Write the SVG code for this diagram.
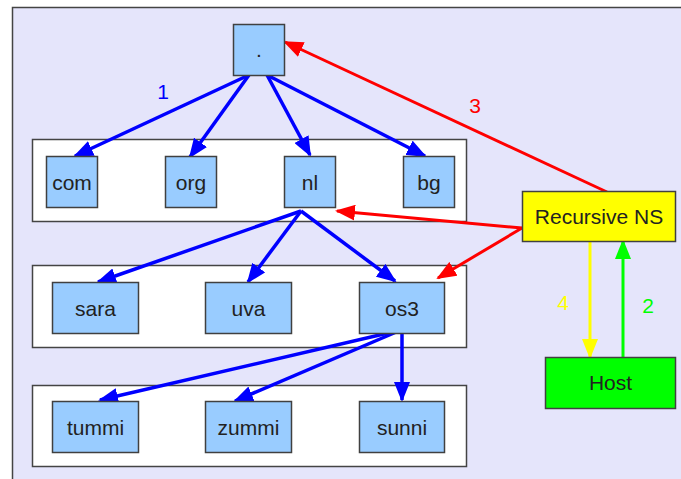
<svg xmlns="http://www.w3.org/2000/svg" width="681" height="479" viewBox="0 0 681 479">
  <style>
    .zone { fill: #ffffff; stroke: #444444; stroke-width: 1.5; }
    .dom { fill: #99ccff; stroke: #404040; stroke-width: 1.5; }
    .ns { fill: #ffff00; stroke: #404040; stroke-width: 1.5; }
    .host { fill: #00ff00; stroke: #404040; stroke-width: 1.5; }
    .lbl { font-family: "Liberation Sans", Arial, sans-serif; font-size: 21px; fill: #222222; text-anchor: middle; }
    .num { font-family: "Liberation Sans", Arial, sans-serif; font-size: 21px; text-anchor: middle; }
    .blue { stroke: #0000ff; stroke-width: 3.5; fill: none; marker-end: url(#ahBlue); }
    .red { stroke: #ff0000; stroke-width: 3; fill: none; marker-end: url(#ahRed); }
    .yellow { stroke: #ffff00; stroke-width: 3; fill: none; marker-end: url(#ahYellow); }
    .green { stroke: #00ff00; stroke-width: 3; fill: none; marker-end: url(#ahGreen); }
  </style>
  <defs>
    <marker id="ahBlue" markerUnits="userSpaceOnUse" viewBox="0 0 20 16" markerWidth="20" markerHeight="16" refX="18" refY="8" orient="auto">
      <path d="M0,0 L20,8 L0,16 z" fill="#0000ff"/>
    </marker>
    <marker id="ahRed" markerUnits="userSpaceOnUse" viewBox="0 0 20 16" markerWidth="20" markerHeight="16" refX="18" refY="8" orient="auto">
      <path d="M0,0 L20,8 L0,16 z" fill="#ff0000"/>
    </marker>
    <marker id="ahYellow" markerUnits="userSpaceOnUse" viewBox="0 0 20 16" markerWidth="20" markerHeight="16" refX="18" refY="8" orient="auto">
      <path d="M0,0 L20,8 L0,16 z" fill="#ffff00"/>
    </marker>
    <marker id="ahGreen" markerUnits="userSpaceOnUse" viewBox="0 0 20 16" markerWidth="20" markerHeight="16" refX="18" refY="8" orient="auto">
      <path d="M0,0 L20,8 L0,16 z" fill="#00ff00"/>
    </marker>
  </defs>

  <!-- canvas -->
  <rect x="0" y="0" width="681" height="479" fill="#ffffff"/>
  <rect x="12.5" y="7.5" width="680" height="480" fill="#e5e5fb" stroke="#444444" stroke-width="1.5"/>

  <!-- zone frames -->
  <g id="zones">
    <rect class="zone" x="32.5" y="139.5" width="434" height="82"/>
    <rect class="zone" x="32.5" y="265.5" width="434" height="82"/>
    <rect class="zone" x="32.5" y="385.5" width="434" height="81"/>
  </g>

  <!-- connectors -->
  <g id="connectors">
    <line class="blue" x1="249" y1="75" x2="75" y2="156"/>
    <line class="blue" x1="249" y1="75" x2="190" y2="157"/>
    <line class="blue" x1="267" y1="75" x2="310" y2="155"/>
    <line class="blue" x1="267" y1="75" x2="425" y2="156"/>
    <line class="blue" x1="301" y1="211" x2="98" y2="282"/>
    <line class="blue" x1="301" y1="211" x2="248" y2="282"/>
    <line class="blue" x1="301" y1="211" x2="395" y2="281"/>
    <line class="blue" x1="401" y1="330" x2="100" y2="400"/>
    <line class="blue" x1="401" y1="330" x2="235" y2="401"/>
    <line class="blue" x1="402" y1="330" x2="402" y2="400"/>
    <line class="red" x1="607" y1="192" x2="285" y2="42"/>
    <line class="red" x1="522" y1="228" x2="337" y2="211"/>
    <line class="red" x1="522" y1="228" x2="438" y2="278"/>
    <line class="yellow" x1="590" y1="241" x2="590" y2="357"/>
    <line class="green" x1="623" y1="357" x2="623" y2="241"/>
    <text class="num" x="163" y="99" fill="#0000ff">1</text>
    <text class="num" x="475" y="113" fill="#ff0000">3</text>
    <text class="num" x="563" y="310" fill="#ffff00">4</text>
    <text class="num" x="648" y="313" fill="#00ff00">2</text>
  </g>

  <!-- nodes -->
  <g id="root"><rect class="dom" x="233.5" y="24.5" width="51" height="51"/><text class="lbl" x="259" y="57">.</text></g>
  <g id="com"><rect class="dom" x="46.5" y="156.5" width="51" height="51"/><text class="lbl" x="72" y="189.5">com</text></g>
  <g id="org"><rect class="dom" x="165.5" y="156.5" width="51" height="51"/><text class="lbl" x="191" y="189.5">org</text></g>
  <g id="nl"><rect class="dom" x="284.5" y="156.5" width="51" height="51"/><text class="lbl" x="310" y="189.5">nl</text></g>
  <g id="bg"><rect class="dom" x="403.5" y="156.5" width="51" height="51"/><text class="lbl" x="429" y="189.5">bg</text></g>
  <g id="sara"><rect class="dom" x="52.5" y="282.5" width="86" height="51"/><text class="lbl" x="95.5" y="315.5">sara</text></g>
  <g id="uva"><rect class="dom" x="205.5" y="282.5" width="86" height="51"/><text class="lbl" x="248.5" y="315.5">uva</text></g>
  <g id="os3"><rect class="dom" x="359.5" y="282.5" width="85" height="51"/><text class="lbl" x="402" y="315.5">os3</text></g>
  <g id="tummi"><rect class="dom" x="52.5" y="401.5" width="86" height="51"/><text class="lbl" x="95.5" y="434.5">tummi</text></g>
  <g id="zummi"><rect class="dom" x="205.5" y="401.5" width="86" height="51"/><text class="lbl" x="248.5" y="434.5">zummi</text></g>
  <g id="sunni"><rect class="dom" x="359.5" y="401.5" width="85" height="51"/><text class="lbl" x="402" y="434.5">sunni</text></g>
  <g id="recursive-ns"><rect class="ns" x="522.5" y="191.5" width="153" height="50"/><text class="lbl" x="599" y="223.5">Recursive NS</text></g>
  <g id="host"><rect class="host" x="545.5" y="357.5" width="130" height="51"/><text class="lbl" x="610.5" y="390">Host</text></g>
</svg>
